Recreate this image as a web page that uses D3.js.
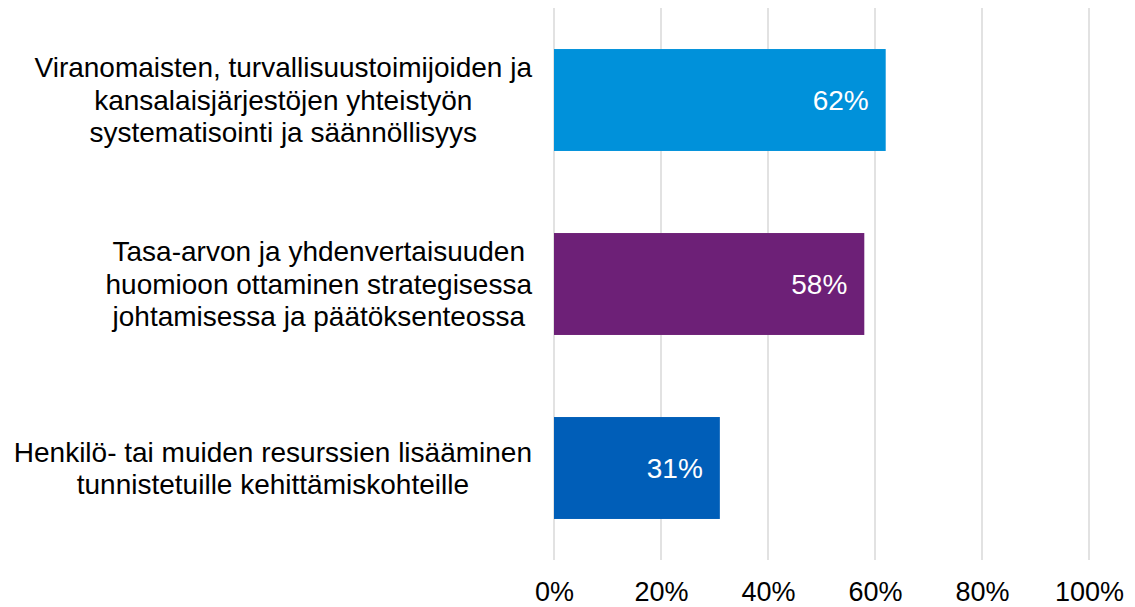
<!DOCTYPE html>
<html>
<head>
<meta charset="utf-8">
<script src="https://cdn.jsdelivr.net/npm/d3@7"></script>
<style>
    body { margin: 0; background: #fff; }
    text { font-family: "Liberation Sans", Arial, sans-serif; }
</style>
</head>
<body>
<div id="chart"></div>
<script>
// chart data
var categories = [
    ["Viranomaisten, turvallisuustoimijoiden ja", "kansalaisjärjestöjen yhteistyön", "systematisointi ja säännöllisyys"],
    ["Tasa-arvon ja yhdenvertaisuuden", "huomioon ottaminen strategisessa", "johtamisessa ja päätöksenteossa"],
    ["Henkilö- tai muiden resurssien lisääminen", "tunnistetuille kehittämiskohteille"]
];
var values = [62, 58, 31];
var colors = ["#0091DA", "#6D2077", "#005EB8"];
var ticks = [0, 20, 40, 60, 80, 100];

function init() {
    var w = 1135,
        h = 607;
    var left = 554,
        right = 1089,
        top = 8,
        bottom = 560;

    var svg = d3.select("#chart")
        .append("svg")
        .attr("width", w)
        .attr("height", h);

    var xScale = d3.scaleLinear()
        .domain([0, 100])
        .range([left, right]);

    var yScale = d3.scaleBand()
        .domain(d3.range(values.length))
        .range([top, bottom])
        .paddingInner(0.446)
        .paddingOuter(0.223);

    // gridlines
    svg.append("g")
        .selectAll("line")
        .data(ticks)
        .enter()
        .append("line")
        .attr("x1", d => xScale(d))
        .attr("x2", d => xScale(d))
        .attr("y1", top)
        .attr("y2", bottom)
        .attr("stroke", "#d9d9d9")
        .attr("stroke-width", 1.5);

    // bars
    svg.append("g")
        .selectAll("rect")
        .data(values)
        .enter()
        .append("rect")
        .attr("x", xScale(0))
        .attr("y", (d, i) => yScale(i))
        .attr("width", d => xScale(d) - xScale(0))
        .attr("height", yScale.bandwidth())
        .attr("fill", (d, i) => colors[i]);

    // value labels
    svg.append("g")
        .selectAll("text")
        .data(values)
        .enter()
        .append("text")
        .attr("x", d => xScale(d) - 17)
        .attr("y", (d, i) => yScale(i) + yScale.bandwidth() / 2)
        .attr("dy", "0.35em")
        .attr("text-anchor", "end")
        .attr("fill", "#fff")
        .attr("font-size", "28px")
        .text(d => d + "%");

    // x axis labels
    var xAxis = d3.axisBottom(xScale)
        .tickValues(ticks)
        .tickSize(0)
        .tickPadding(0)
        .tickFormat(d => d + "%");

    var ax = svg.append("g")
        .attr("transform", "translate(0," + 601 + ")")
        .call(xAxis);
    ax.select(".domain").remove();
    ax.selectAll("text")
        .attr("y", 0)
        .attr("dy", null)
        .attr("fill", "#000")
        .style("font-family", "'Liberation Sans', Arial, sans-serif")
        .attr("font-size", "27px");

    // category labels: each block centred, blocks right aligned
    var lineH = 32.5,
        labelRight = 532;
    categories.forEach(function (lines, i) {
        var cy = yScale(i) + yScale.bandwidth() / 2;
        var g = svg.append("g");
        var t = g.selectAll("text")
            .data(lines)
            .enter()
            .append("text")
            .attr("y", (d, j) => cy + (j - (lines.length - 1) / 2) * lineH)
            .attr("dy", "0.35em")
            .attr("text-anchor", "middle")
            .attr("font-size", "28px")
            .attr("fill", "#000")
            .text(d => d);
        var maxW = d3.max(t.nodes(), n => n.getComputedTextLength());
        t.attr("x", labelRight - maxW / 2);
    });
}

window.onload = init;
</script>
</body>
</html>
